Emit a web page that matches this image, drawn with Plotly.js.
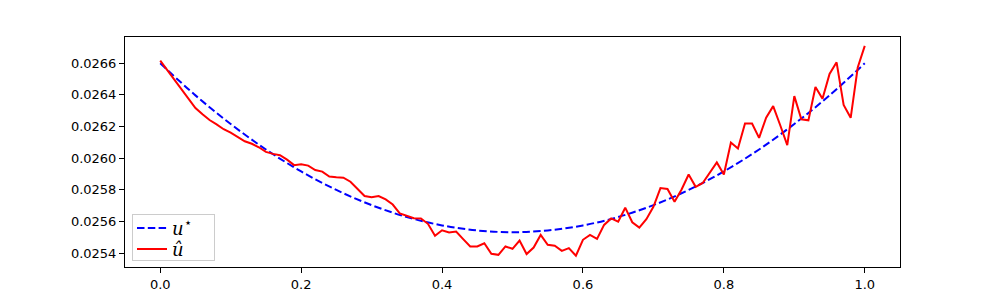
<!DOCTYPE html>
<html>
<head>
<meta charset="utf-8">
<script src="https://cdn.plot.ly/plotly-3.0.1.min.js"></script>
<style>html,body{margin:0;padding:0;background:#fff;}#chart{width:1000px;height:300px;}</style>
</head>
<body>
<div id="chart"></div>
<script>
// grid of the estimate (u hat)
const xHat = [0.00,0.01,0.02,0.03,0.04,0.05,0.06,0.07,0.08,0.09,
  0.10,0.11,0.12,0.13,0.14,0.15,0.16,0.17,0.18,0.19,
  0.20,0.21,0.22,0.23,0.24,0.25,0.26,0.27,0.28,0.29,
  0.30,0.31,0.32,0.33,0.34,0.35,0.36,0.37,0.38,0.39,
  0.40,0.41,0.42,0.43,0.44,0.45,0.46,0.47,0.48,0.49,
  0.50,0.51,0.52,0.53,0.54,0.55,0.56,0.57,0.58,0.59,
  0.60,0.61,0.62,0.63,0.64,0.65,0.66,0.67,0.68,0.69,
  0.70,0.71,0.72,0.73,0.74,0.75,0.76,0.77,0.78,0.79,
  0.80,0.81,0.82,0.83,0.84,0.85,0.86,0.87,0.88,0.89,
  0.90,0.91,0.92,0.93,0.94,0.95,0.96,0.97,0.98,0.99,1.00];
const uHat = [0.026617,0.026557,0.026491,0.026432,0.026375,0.026317,0.026277,0.026241,0.026214,0.026183,
  0.026161,0.026132,0.026107,0.026091,0.026069,0.026040,0.026027,0.026019,0.025991,0.025956,
  0.025962,0.025953,0.025925,0.025915,0.025884,0.025879,0.025877,0.025851,0.025805,0.025761,
  0.025753,0.025761,0.025739,0.025707,0.025651,0.025635,0.025620,0.025619,0.025585,0.025509,
  0.025544,0.025530,0.025536,0.025488,0.025442,0.025442,0.025462,0.025396,0.025389,0.025442,
  0.025427,0.025479,0.025394,0.025435,0.025515,0.025452,0.025446,0.025414,0.025431,0.025383,
  0.025484,0.025515,0.025490,0.025578,0.025619,0.025599,0.025687,0.025595,0.025561,0.025614,
  0.025693,0.025811,0.025805,0.025725,0.025802,0.025897,0.025819,0.025843,0.025904,0.025973,
  0.025897,0.026099,0.026061,0.026219,0.026219,0.026128,0.026256,0.026329,0.026208,0.026082,
  0.026392,0.026246,0.026239,0.026450,0.026375,0.026533,0.026606,0.026337,0.026255,0.026573,0.026710];

// reference solution (u star)
const xStar = [0.00,0.05,0.10,0.15,0.20,0.25,0.30,0.35,0.40,0.45,0.50,
  0.55,0.60,0.65,0.70,0.75,0.80,0.85,0.90,0.95,1.00];
const uStar = [0.026600,0.026397,0.026216,0.026055,0.025916,0.025799,0.025703,0.025628,0.025575,0.025543,0.025532,
  0.025543,0.025575,0.025628,0.025703,0.025799,0.025916,0.026055,0.026216,0.026397,0.026600];

const xTicks = [0, 0.2, 0.4, 0.6, 0.8, 1.0];
const yTicks = [0.0254, 0.0256, 0.0258, 0.0260, 0.0262, 0.0264, 0.0266];
const xTickText = ["0.0", "0.2", "0.4", "0.6", "0.8", "1.0"];
const yTickText = ["0.0254", "0.0256", "0.0258", "0.0260", "0.0262", "0.0264", "0.0266"];

const traces = [
  {x: xStar, y: uStar, type: 'scatter', mode: 'lines', name: '<i>u</i><sup>⋆</sup>',
   line: {color: '#0000ff', width: 2, dash: '7.5px,3.3px', shape: 'spline'}},
  {x: xHat, y: uHat, type: 'scatter', mode: 'lines', name: '<i>û</i>',
   line: {color: '#ff0000', width: 2}}
];

const axisCommon = {
  showgrid: false, zeroline: false, showline: true, linecolor: '#000', linewidth: 1,
  mirror: true, ticks: 'outside', ticklen: 5, tickwidth: 1, tickcolor: '#000',
  tickfont: {family: 'DejaVu Sans', size: 13, color: '#000'}
};

const layout = {
  width: 1000, height: 300,
  margin: {l: 125, r: 100, t: 37, b: 33, pad: 0},
  paper_bgcolor: '#fff', plot_bgcolor: '#fff',
  showlegend: true,
  legend: {
    x: 0.009, y: 0.03, xanchor: 'left', yanchor: 'bottom',
    bgcolor: 'rgba(255,255,255,0.8)', bordercolor: '#cccccc', borderwidth: 1,
    font: {family: 'DejaVu Serif', size: 18, color: '#000'},
    tracegroupgap: 0, itemwidth: 30, valign: 'middle'
  },
  xaxis: Object.assign({}, axisCommon, {range: [-0.05, 1.05], tickvals: xTicks, ticktext: xTickText}),
  yaxis: Object.assign({}, axisCommon, {range: [0.025312, 0.026766], tickvals: yTicks, ticktext: yTickText})
};

Plotly.newPlot('chart', traces, layout, {staticPlot: true, displayModeBar: false}).then(function () {
  // tighten the legend rows so its box matches the reference height
  const rows = document.querySelectorAll('.legend .traces');
  rows.forEach(function (r, i) {
    r.setAttribute('transform', 'translate(0,' + (14 + i * 21) + ')');
  });
  const bg = document.querySelector('.legend .bg');
  if (bg) { bg.setAttribute('height', 46); bg.setAttribute('width', 82); }
  const leg = document.querySelector('.legend');
  if (leg) { leg.setAttribute('transform', 'translate(132,214)'); }
});
</script>
</body>
</html>
